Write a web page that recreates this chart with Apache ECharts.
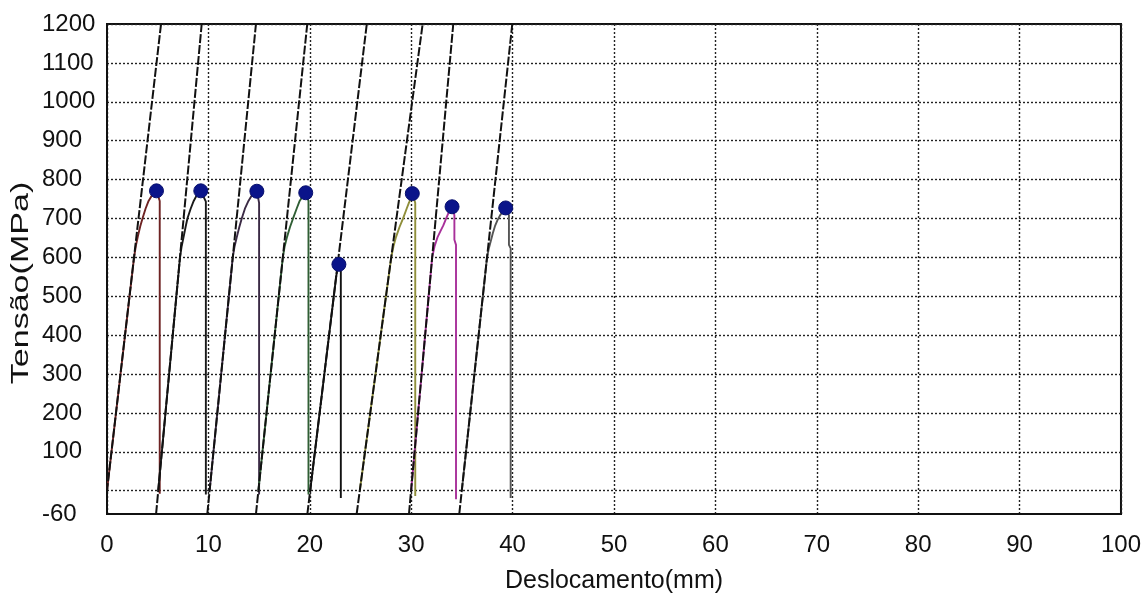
<!DOCTYPE html>
<html>
<head>
<meta charset="utf-8">
<script src="https://cdn.jsdelivr.net/npm/echarts@6/dist/echarts.min.js"></script>
<style>
  html, body { margin: 0; padding: 0; background: #fff; }
  #chart { width: 1144px; height: 599px; }
</style>
</head>
<body>
<div id="chart"></div>
<script>
// Axis ticks
const xTicks = [0, 10, 20, 30, 40, 50, 60, 70, 80, 90, 100];
const yLabelValues = [-60, 100, 200, 300, 400, 500, 600, 700, 800, 900, 1000, 1100, 1200];
const yGridValues = [0, 100, 200, 300, 400, 500, 600, 700, 800, 900, 1000, 1100, 1200];

// Specimens
const specimens = ['CP1', 'CP2', 'CP3', 'CP4', 'CP5', 'CP6', 'CP7', 'CP8'];

// Elastic reference lines: displacement at -60 MPa and at 1200 MPa
const refFootX = [-0.27, 4.84, 9.89, 14.69, 19.76, 24.62, 29.78, 34.74];
const refTopX  = [5.33, 9.34, 14.69, 19.75, 25.62, 31.13, 34.15, 39.97];

// Stress-displacement curves [mm, MPa]
const curveCP1 = [[0, 0], [2.67, 600], [2.85, 630], [3.05, 655], [3.28, 680], [3.5, 700], [3.8, 725], [4.1, 745], [4.5, 762], [4.88, 771], [5.2, 745], [5.2, -8]];
const curveCP2 = [[5.05, 0], [7.2, 600], [7.36, 628], [7.55, 652], [7.75, 678], [7.93, 700], [8.25, 725], [8.55, 745], [8.9, 762], [9.25, 771], [9.75, 743], [9.75, -10]];
const curveCP3 = [[10.12, 0], [12.4, 600], [12.58, 628], [12.8, 652], [13.05, 678], [13.29, 700], [13.6, 725], [13.95, 745], [14.35, 762], [14.78, 770], [15.0, 740], [15.0, -10]];
const curveCP4 = [[14.93, 0], [17.34, 600], [17.52, 628], [17.75, 652], [18.05, 678], [18.35, 700], [18.7, 725], [19.0, 745], [19.3, 757], [19.6, 766], [19.87, 745], [19.87, -10]];
const curveCP5 = [[20.04, 0], [22.6, 550], [22.72, 570], [22.87, 582], [23.06, 565], [23.06, -19]];
const curveCP6 = [[24.93, 0], [28.03, 600], [28.25, 628], [28.5, 652], [28.85, 678], [29.2, 700], [29.55, 725], [29.8, 742], [30.11, 764], [30.4, 740], [30.4, -14]];
const curveCP7 = [[29.99, 0], [32.07, 600], [32.3, 628], [32.6, 652], [32.9, 668], [33.17, 682], [33.45, 700], [33.66, 713], [34.03, 730], [34.26, 708], [34.26, 645], [34.42, 632], [34.42, -22]];
const curveCP8 = [[34.99, 0], [37.48, 600], [37.65, 622], [37.85, 642], [38.05, 662], [38.26, 680], [38.5, 695], [38.76, 708], [39.32, 727], [39.64, 708], [39.64, 632], [39.81, 623], [39.81, -19]];
const curves = [curveCP1, curveCP2, curveCP3, curveCP4, curveCP5, curveCP6, curveCP7, curveCP8];

// Maximum stress points
const peakX = [4.88, 9.25, 14.78, 19.6, 22.87, 30.11, 34.03, 39.32];
const peakY = [771, 771, 770, 766, 582, 764, 730, 727];

const curveColors = ['#6e2323', '#1a1a1a', '#3b2a45', '#2f5e34', '#111111', '#8f8e3a', '#a8309a', '#555555'];
const FONT = '"Liberation Sans", Arial, sans-serif';

const series = [];
specimens.forEach((name, i) => {
  series.push({
    name: name,
    type: 'line',
    data: curves[i],
    showSymbol: false,
    symbol: 'none',
    clip: true,
    z: 2,
    lineStyle: { color: curveColors[i], width: 1.9 }
  });
});
specimens.forEach((name, i) => {
  series.push({
    name: name + ' ref',
    type: 'line',
    data: [[refFootX[i], -60], [refTopX[i], 1200]],
    showSymbol: false,
    symbol: 'none',
    clip: true,
    z: 3,
    lineStyle: { color: '#111', width: 2, type: [9, 2] }
  });
});
series.push({
  name: 'max',
  type: 'scatter',
  data: peakX.map((x, i) => [x, peakY[i]]),
  symbol: 'circle',
  symbolSize: 14,
  z: 5,
  itemStyle: { color: '#0a148a', borderColor: '#08106e', borderWidth: 1, opacity: 1 }
});

const chart = echarts.init(document.getElementById('chart'), null, { renderer: 'canvas' });
chart.setOption({
  animation: false,
  backgroundColor: '#fff',
  textStyle: { fontFamily: FONT },
  grid: {
    left: 107, right: 23, top: 24, bottom: 81,
    show: true, borderColor: '#111', borderWidth: 2, backgroundColor: 'transparent'
  },
  xAxis: {
    type: 'value',
    min: xTicks[0],
    max: xTicks[xTicks.length - 1],
    interval: 10,
    name: 'Deslocamento(mm)',
    nameLocation: 'middle',
    nameGap: 55,
    nameTextStyle: { fontSize: 25, color: '#111', fontFamily: FONT },
    axisLine: { show: true, onZero: false, lineStyle: { color: '#111', width: 2 } },
    axisTick: { show: false },
    axisLabel: { fontSize: 24, color: '#111', margin: 19, fontFamily: FONT, formatter: v => String(v) },
    splitLine: { show: true, lineStyle: { color: '#222', width: 1.4, type: [2, 2] } }
  },
  yAxis: {
    type: 'value',
    min: -60,
    max: 1200,
    axisLine: { show: true, onZero: false, lineStyle: { color: '#111', width: 2 } },
    axisTick: { show: false, customValues: yGridValues },
    axisLabel: {
      customValues: yLabelValues,
      formatter: v => String(v),
      fontSize: 24, color: '#111', margin: 65, align: 'left', fontFamily: FONT
    },
    splitLine: { show: true, lineStyle: { color: '#222', width: 1.4, type: [2, 2] } }
  },
  graphic: [{
    type: 'text',
    x: 22,
    y: 283,
    rotation: Math.PI / 2,
    scaleX: 1.48,
    style: {
      text: 'Tensão(MPa)',
      font: '23px ' + FONT,
      fill: '#111',
      textAlign: 'center',
      textVerticalAlign: 'middle',
      verticalAlign: 'middle'
    }
  }],
  series: series
});
</script>
</body>
</html>
